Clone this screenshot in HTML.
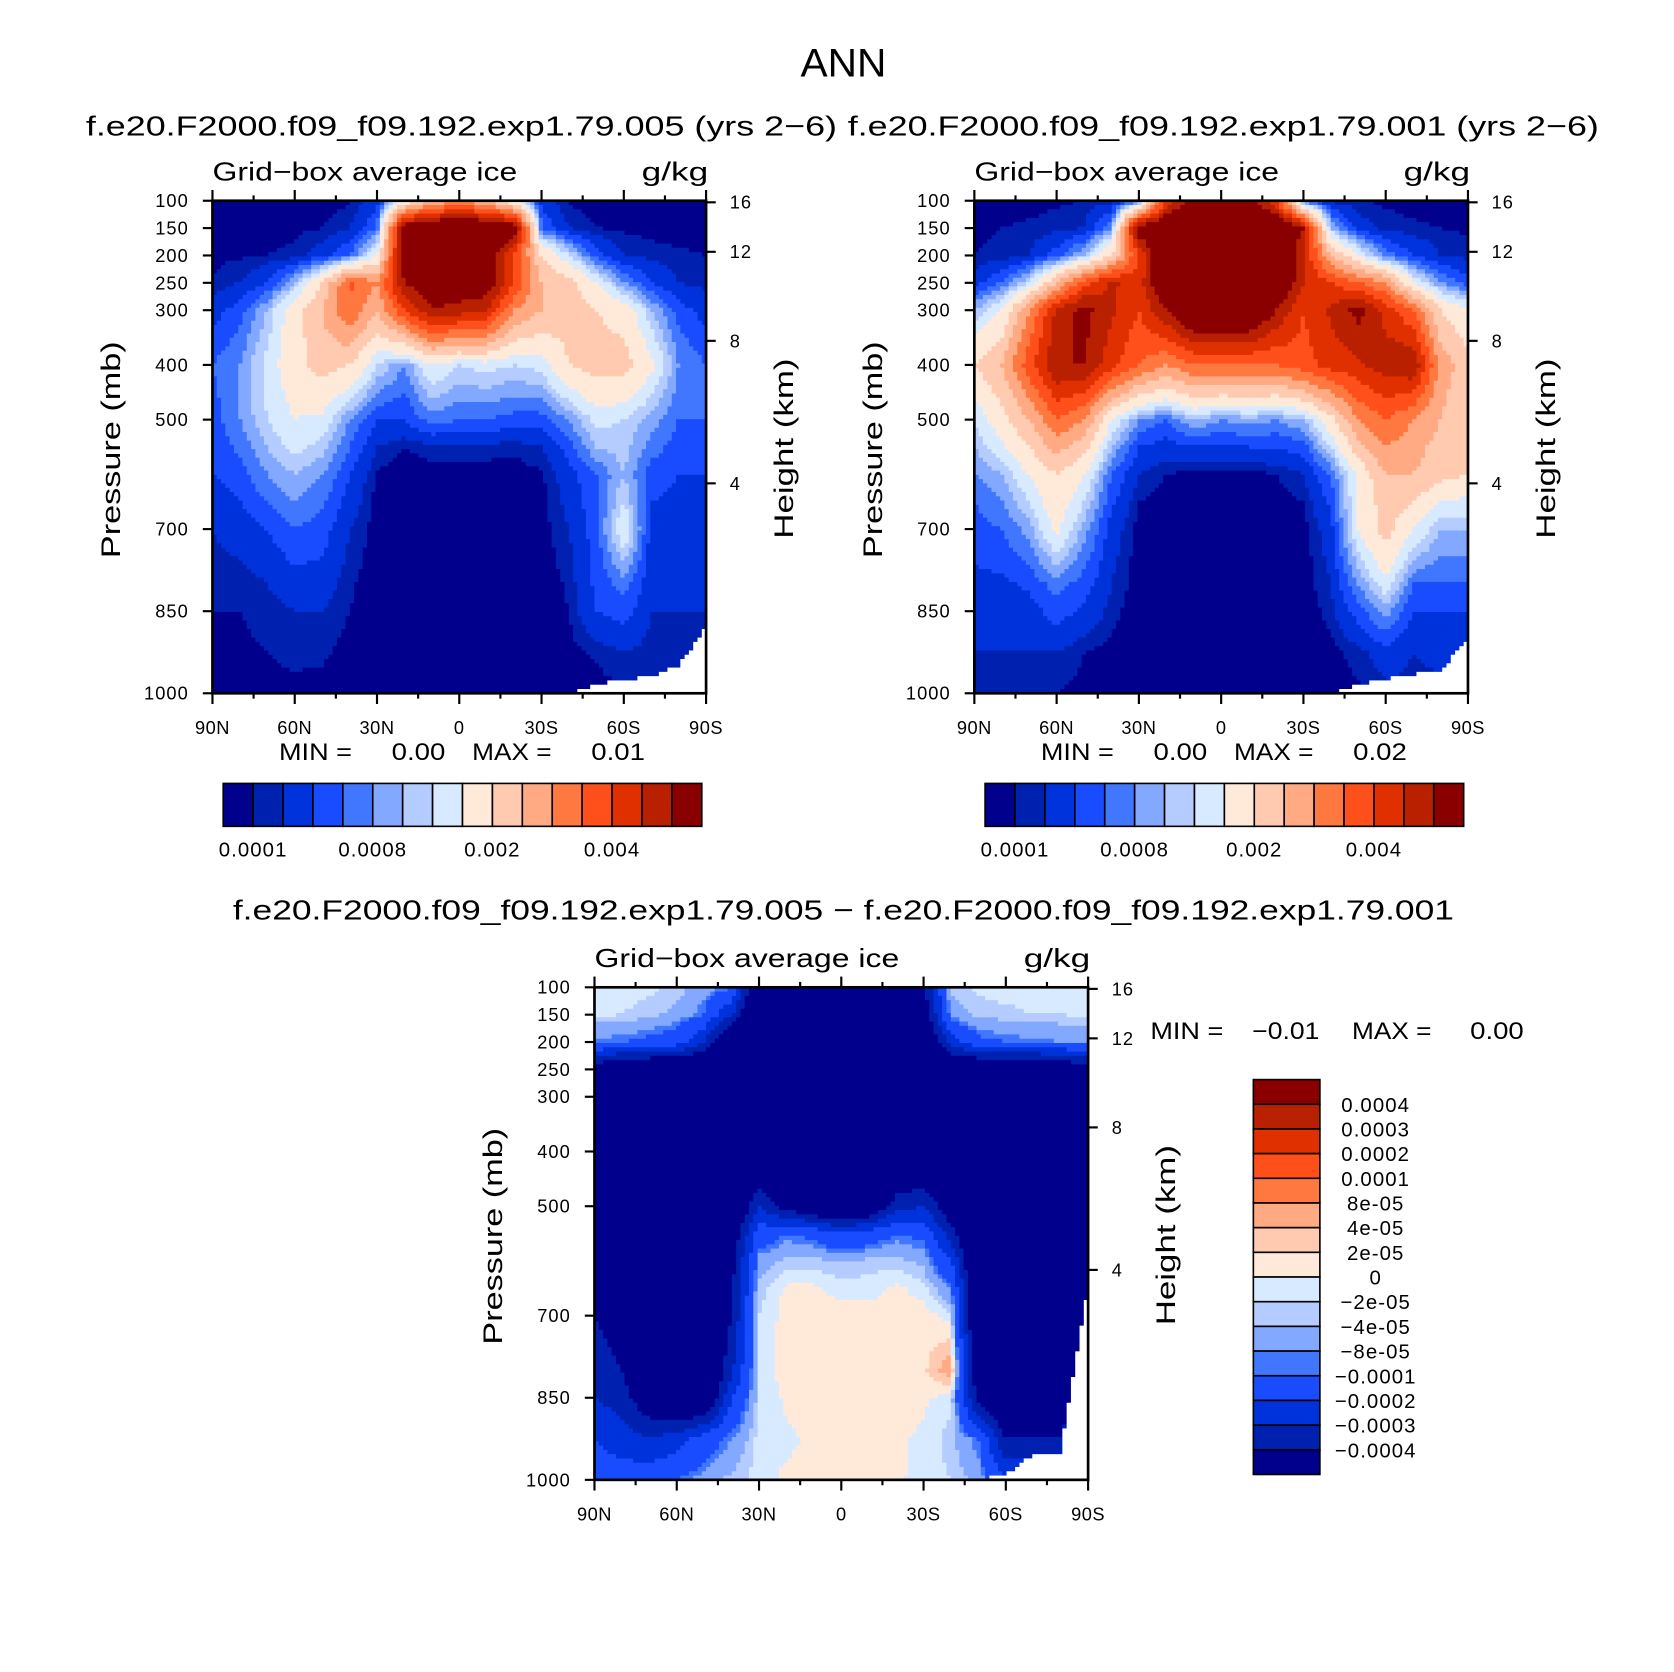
<!DOCTYPE html>
<html><head><meta charset="utf-8"><style>
html,body{margin:0;padding:0;background:#fff}
svg{display:block}
text{font-family:"Liberation Sans",sans-serif;fill:#000}
</style></head><body>
<svg id="fig" width="1674" height="1672" viewBox="0 0 1560 1558" xmlns="http://www.w3.org/2000/svg">
<text x="746" y="71" font-size="37" textLength="80" lengthAdjust="spacingAndGlyphs">ANN</text>
<text x="80" y="126" font-size="26" textLength="700" lengthAdjust="spacingAndGlyphs">f.e20.F2000.f09_f09.192.exp1.79.005 (yrs 2−6)</text>
<text x="790" y="126" font-size="26" textLength="700" lengthAdjust="spacingAndGlyphs">f.e20.F2000.f09_f09.192.exp1.79.001 (yrs 2−6)</text>
<text x="217" y="857" font-size="26" textLength="1138" lengthAdjust="spacingAndGlyphs">f.e20.F2000.f09_f09.192.exp1.79.005 − f.e20.F2000.f09_f09.192.exp1.79.001</text>
</svg>
<script>
// ---- data ----
const lats = [90,80,70,60,50,40,30,20,10,0,-10,-20,-30,-40,-50,-60,-70,-80,-90];
const pressures = [100,150,200,250,300,400,500,550,600,650,700,800,850,925,1000];
const pTicks = [100,150,200,250,300,400,500,700,850,1000];
const zTicks = [16,12,8,4];
const latTickLabels = ['90N','60N','30N','0','30S','60S','90S'];
const levelsAbs = [0.1,0.2,0.4,0.6,0.8,1,1.2,1.5,2,2.5,3,3.5,4,4.5,5];
const absBarLabels = ['0.0001','0.0008','0.002','0.004'];
const levelsDiff = [-40,-30,-20,-10,-8,-4,-2,0,2,4,8,10,20,30,40];
const diffBarLabels = ['0.0004','0.0003','0.0002','0.0001','8e-05','4e-05','2e-05','0','−2e-05','−4e-05','−8e-05','−0.0001','−0.0002','−0.0003','−0.0004'];
const colors = ['#00008C','#0020B0','#0032DC','#1A4CFF','#4176FF','#83A8FF','#B4CCFF','#D8EAFF','#FFEADA','#FFCAB0','#FFAA82','#FF7840','#FF501C','#E03000','#B82000','#8A0000'];

const field1 = [
[0.05,0.05,0.05,0.05,0.05,0.08,0.3,1.5,2.5,3,2.5,1.5,0.3,0.08,0.05,0.05,0.05,0.05,0.05],
[0.05,0.05,0.06,0.08,0.1,0.2,0.6,5.5,6,6,6,5.5,0.6,0.2,0.1,0.08,0.06,0.05,0.05],
[0.08,0.08,0.1,0.12,0.3,0.6,1.5,5.5,6,6,5.5,4,2,1.2,0.5,0.2,0.15,0.12,0.1],
[0.1,0.2,0.4,1,2,3.6,3,5,5.5,5.5,5.5,4,2.5,2.2,1.5,0.8,0.4,0.2,0.15],
[0.3,0.5,1,1.8,2.5,3.5,2.5,4,5,4.8,4.5,3,2.5,2.2,2,1.8,1,0.5,0.3],
[0.6,0.8,1.3,1.8,2.2,2,1.2,0.8,1.5,1.2,1.3,1.2,1.3,2,2.2,2.2,1.6,0.8,0.6],
[0.5,0.8,1.2,1.5,1.4,0.8,0.4,0.4,0.7,0.6,0.6,0.5,0.5,0.8,1.3,1.2,0.9,0.6,0.6],
[0.45,0.65,1,1.3,1.1,0.6,0.2,0.1,0.15,0.15,0.15,0.12,0.2,0.5,1,1.1,0.7,0.5,0.5],
[0.4,0.5,0.8,1,0.8,0.4,0.08,0.05,0.05,0.05,0.05,0.05,0.08,0.3,0.6,1,0.5,0.4,0.4],
[0.3,0.4,0.6,0.8,0.65,0.3,0.06,0.03,0.03,0.03,0.03,0.03,0.06,0.25,0.55,1.2,0.4,0.35,0.35],
[0.2,0.3,0.4,0.6,0.5,0.2,0.05,0.02,0.02,0.02,0.02,0.02,0.05,0.2,0.5,1.5,0.3,0.3,0.3],
[0.12,0.12,0.2,0.3,0.3,0.12,0.03,0.02,0.02,0.02,0.02,0.02,0.03,0.12,0.45,0.7,0.25,0.25,0.25],
[0.1,0.1,0.15,0.2,0.2,0.1,0.02,0.01,0.01,0.01,0.01,0.01,0.02,0.1,0.4,0.5,0.2,0.2,0.2],
[0.07,0.07,0.1,0.12,0.12,0.06,0.02,0.01,0.01,0.01,0.01,0.01,0.02,0.06,0.12,0.2,0.15,0.15,0.15],
[0.05,0.05,0.07,0.08,0.06,0.03,0.01,0.01,0.01,0.01,0.01,0.01,0.01,0.03,0.05,0.08,0.1,0.1,0.1]];
const surf1 = [1000,1000,1000,1000,1000,1000,1000,1000,1000,1000,1000,1000,1000,1000,985,975,970,950,880];

const field2 = [
[0.05,0.05,0.06,0.08,0.1,0.15,0.6,4,5.5,5.5,5.5,4,0.6,0.15,0.1,0.08,0.06,0.05,0.05],
[0.08,0.1,0.12,0.15,0.2,0.8,5.5,6,6,6,6,6,5,1,0.3,0.15,0.12,0.1,0.08],
[0.1,0.12,0.2,0.5,1,2,4,6,6,6,6,6,4.5,2.5,1.5,0.7,0.4,0.2,0.15],
[0.3,0.6,1.2,2.5,3.8,4.6,4.2,6,6,6,6,6,4.5,4,3.5,3,1.5,0.8,0.5],
[1,1.5,3,4.6,5.2,4.6,4,5,6,6,6,5,4,4.6,5.2,4.3,3.5,2,1.5],
[2,2.5,3.8,5,5,4.2,3.5,3,3.5,3.5,3.5,3.5,3.8,4.2,4.4,4.8,5,2.8,2.2],
[1.2,1.8,2.5,3.5,3,1.5,0.8,0.6,1,0.8,0.9,0.8,1,1.8,3,3.5,3,2.5,2],
[1,1.4,2,2.7,2.2,1,0.4,0.3,0.4,0.35,0.4,0.4,0.5,1.2,2.3,3,2.7,2.3,2],
[0.8,1,1.5,2,1.5,0.6,0.2,0.1,0.05,0.05,0.05,0.1,0.2,0.6,1.6,2.5,2.5,2.2,2],
[0.6,0.8,1.2,1.8,1.2,0.45,0.1,0.05,0.03,0.03,0.03,0.05,0.1,0.45,1.5,2.3,2,1.5,1.4],
[0.5,0.6,0.9,1.6,0.9,0.3,0.05,0.02,0.02,0.02,0.02,0.02,0.05,0.3,1.5,2.2,1.5,1,1],
[0.35,0.35,0.45,0.7,0.5,0.2,0.03,0.02,0.02,0.02,0.02,0.02,0.03,0.2,0.8,1.4,0.6,0.6,0.6],
[0.3,0.3,0.3,0.5,0.35,0.15,0.02,0.01,0.01,0.01,0.01,0.01,0.02,0.15,0.5,0.9,0.4,0.4,0.4],
[0.2,0.2,0.2,0.2,0.1,0.06,0.02,0.01,0.01,0.01,0.01,0.01,0.02,0.06,0.15,0.3,0.2,0.25,0.25],
[0.12,0.12,0.12,0.1,0.06,0.03,0.01,0.01,0.01,0.01,0.01,0.01,0.01,0.03,0.08,0.15,0.15,0.15,0.15]];
const surf2 = [1000,1000,1000,1000,1000,1000,1000,1000,1000,1000,1000,1000,1000,1000,985,975,965,960,900];

const field3 = [
[-1,-1,-1.5,-2.5,-6,-9,-60,-60,-60,-60,-60,-60,-40,-3,-1.5,-1.2,-1,-1,-1],
[-1.5,-2,-3,-5,-10,-30,-60,-60,-60,-60,-60,-60,-50,-6,-3,-2.5,-2,-2,-1.5],
[-9,-10,-12,-15,-30,-60,-60,-60,-60,-60,-60,-60,-60,-25,-12,-10,-9,-8,-8],
[-45,-60,-60,-60,-60,-60,-60,-60,-60,-60,-60,-60,-60,-60,-60,-60,-60,-55,-45],
[-60,-60,-60,-60,-60,-60,-60,-60,-60,-60,-60,-60,-60,-60,-60,-60,-60,-60,-60],
[-60,-60,-60,-60,-60,-60,-60,-60,-60,-60,-60,-60,-60,-60,-60,-60,-60,-60,-60],
[-60,-60,-60,-60,-60,-60,-30,-45,-55,-60,-55,-35,-30,-50,-60,-60,-60,-60,-60],
[-60,-60,-60,-60,-60,-50,-15,-10,-12,-20,-15,-10,-12,-35,-60,-60,-60,-60,-60],
[-60,-60,-60,-60,-60,-45,-6,-3,-3,-4,-3,-3,-5,-20,-60,-60,-60,-60,-60],
[-60,-60,-60,-60,-60,-42,-3,0.5,0.5,-1,-1,0.5,-1,-8,-60,-60,-60,-60,-60],
[-40,-45,-60,-60,-60,-40,-2,1,1,1,1,1,1,-1,-60,-60,-60,-60,-50],
[-35,-40,-55,-60,-60,-32,-1,1,1,1,1,1,1.5,6,-50,-60,-60,-50,-35],
[-30,-35,-50,-60,-60,-20,-2,0.5,1,1,1,1,0.5,-1,-45,-60,-55,-45,-30],
[-20,-25,-30,-25,-15,-8,-1,-0.5,0.5,0.5,0.5,0.5,-0.5,-3,-10,-40,-40,-40,-30],
[-15,-15,-12,-10,-6,-3,-1,0.5,0.5,0.5,0.5,0.5,-1,-2,-5,-20,-20,-20,-20]];
const surf3 = [1000,1000,1000,1000,1000,1000,1000,1000,1000,1000,1000,1000,1000,1000,1000,990,955,950,650];

// ---- drawing ----
const svg = document.getElementById('fig');
const NS = 'http://www.w3.org/2000/svg';
function mk(tag, attrs, parent){
  const e = document.createElementNS(NS, tag);
  for (const k in attrs) e.setAttribute(k, attrs[k]);
  (parent||svg).appendChild(e);
  return e;
}
const W = 460, H = 459;
function yOfP(y0, p){ return y0 + (p-100)*H/900; }
function xOfLat(x0, lat){ return x0 + (90-lat)*W/180; }
function pOfZ(z){
  const h = z*1000;
  if (h <= 11000) return 1013.25*Math.pow(1-2.25577e-5*h, 5.25588);
  return 226.32*Math.exp(-(h-11000)/6341.6);
}
function interp(field, lat, p){
  let j = Math.min(lats.length-2, Math.max(0, Math.floor((90-lat)/10)));
  const tj = Math.min(1, Math.max(0, (lats[j]-lat)/10));
  let i = 0;
  while (i < pressures.length-2 && p > pressures[i+1]) i++;
  const ti = Math.min(1, Math.max(0, (p-pressures[i])/(pressures[i+1]-pressures[i])));
  const a = field[i][j]*(1-tj)+field[i][j+1]*tj;
  const b = field[i+1][j]*(1-tj)+field[i+1][j+1]*tj;
  return a*(1-ti)+b*ti;
}
function surfAt(surf, lat){
  const j = Math.min(lats.length-2, Math.max(0, Math.floor((90-lat)/10)));
  const t = (lats[j]-lat)/10;
  return surf[j]*(1-t)+surf[j+1]*t;
}
function cls(levels, v){ let c=0; for (const l of levels) if (v>=l) c++; return c; }
function txt(str, attrs, name){
  const t = mk('text', attrs);
  t.textContent = str;
  return t;
}

function panel(name, x0, y0, field, levels, surf){
  const g = mk('g', {});
  
  
  const nx = 115, ny = 115, dx = W/nx, dy = H/ny;
  for (let r=0; r<ny; r++){
    const p = 100 + (r+0.5)*900/ny;
    let runStart = 0, runCol = null;
    for (let c=0; c<=nx; c++){
      let col = 'end';
      if (c < nx){
        const lat = 90 - (c+0.5)*180/nx;
        col = p > surfAt(surf, lat) ? '#ffffff' : colors[cls(levels, interp(field, lat, p))];
      }
      if (col !== runCol){
        if (runCol !== null && runCol !== 'end'){
          const rc = mk('rect', {x:(x0+runStart*dx).toFixed(2), y:(y0+r*dy).toFixed(2), width:((c-runStart)*dx+0.5).toFixed(2), height:(dy+0.5).toFixed(2), fill:runCol}, g);
          
          
        }
        runStart = c; runCol = col;
      }
    }
  }
  const fr = mk('rect', {x:x0, y:y0, width:W, height:H, fill:'none', stroke:'#000', 'stroke-width':2.5});
  
  
  for (let k=0; k<=12; k++){
    const lat = 90 - k*15, x = xOfLat(x0, lat), major = (k%2===0), L = major?10:5;
    const t1 = mk('line', {x1:x, x2:x, y1:y0, y2:y0-L, stroke:'#000', 'stroke-width':2});
    
    
    const t2 = mk('line', {x1:x, x2:x, y1:y0+H, y2:y0+H+L, stroke:'#000', 'stroke-width':2});
    
    
  }
  latTickLabels.forEach((lb, k) => {
    const t = txt(lb, {x:xOfLat(x0, 90-k*30), y:y0+H+38, 'font-size':17, 'text-anchor':'middle', 'letter-spacing':'0.5'});
    
    
  });
  pTicks.forEach(p => {
    const y = yOfP(y0, p);
    const t = mk('line', {x1:x0, x2:x0-9, y1:y, y2:y, stroke:'#000', 'stroke-width':2});
    
    
    const l = txt(String(p), {x:x0-22, y:y+6, 'font-size':17, 'text-anchor':'end', 'letter-spacing':'1'});
    
    
  });
  zTicks.forEach(z => {
    const y = yOfP(y0, pOfZ(z));
    const t = mk('line', {x1:x0+W, x2:x0+W+9, y1:y, y2:y, stroke:'#000', 'stroke-width':2});
    
    
    const l = txt(String(z), {x:x0+W+22, y:y+6, 'font-size':17, 'letter-spacing':'1'});
    
    
  });
  const yt = txt('Pressure (mb)', {transform:`translate(${x0-86},${y0+232}) rotate(-90)`, 'font-size':25, 'text-anchor':'middle', textLength:202, lengthAdjust:'spacingAndGlyphs'});
  
  
  const ht = txt('Height (km)', {transform:`translate(${x0+W+81},${y0+231}) rotate(-90)`, 'font-size':25, 'text-anchor':'middle', textLength:168, lengthAdjust:'spacingAndGlyphs'});
  
  
  const vl = txt('Grid−box average ice', {x:x0, y:y0-19, 'font-size':24, textLength:284, lengthAdjust:'spacingAndGlyphs'});
  
  
  const ul = txt('g/kg', {x:x0+W-60, y:y0-19, 'font-size':24, textLength:62, lengthAdjust:'spacingAndGlyphs'});
  
  
}

function minmax(name, x, y, minS, maxS, offs){
  const parts = ['MIN =', minS, 'MAX =', maxS];
  const lens = [68, minS.length*12.5, 74, maxS.length*12.5];
  parts.forEach((s, k) => {
    const t = txt(s, {x:x+offs[k], y:y, 'font-size':22, textLength:lens[k], lengthAdjust:'spacingAndGlyphs'});
    
    
  });
}

function hbar(name, x0, y0, minS, maxS){
  const bw = 446/16;
  colors.forEach((c, k) => {
    const r = mk('rect', {x:x0+k*bw, y:y0, width:bw, height:40, fill:c, stroke:'#000', 'stroke-width':1.5});
    
    
  });
  absBarLabels.forEach((lb, k) => {
    const t = txt(lb, {x:x0+(1+4*k)*bw, y:y0+68, 'font-size':19, 'text-anchor':'middle', 'letter-spacing':'1'});
    
    
  });
  minmax(name, x0, y0-22, minS, maxS, [52, 157, 232, 343]);
}

panel('panel1', 198, 187, field1, levelsAbs, surf1);
hbar('panel1', 208, 730, '0.00', '0.01');
panel('panel2', 908, 187, field2, levelsAbs, surf2);
hbar('panel2', 918, 730, '0.00', '0.02');
panel('panel3', 554, 920, field3, levelsDiff, surf3);

const vbh = 368/16;
colors.slice().reverse().forEach((c, k) => {
  const r = mk('rect', {x:1168, y:1006+k*vbh, width:62, height:vbh, fill:c, stroke:'#000', 'stroke-width':1.5});
  
  
});
diffBarLabels.forEach((lb, k) => {
  const t = txt(lb, {x:1282, y:1006+(k+1)*vbh+7, 'font-size':19, 'text-anchor':'middle', 'letter-spacing':'1'});
  
  
});
minmax('panel3', 1072, 968, '−0.01', '0.00', [0, 95, 188, 298]);
</script>
</body></html>
